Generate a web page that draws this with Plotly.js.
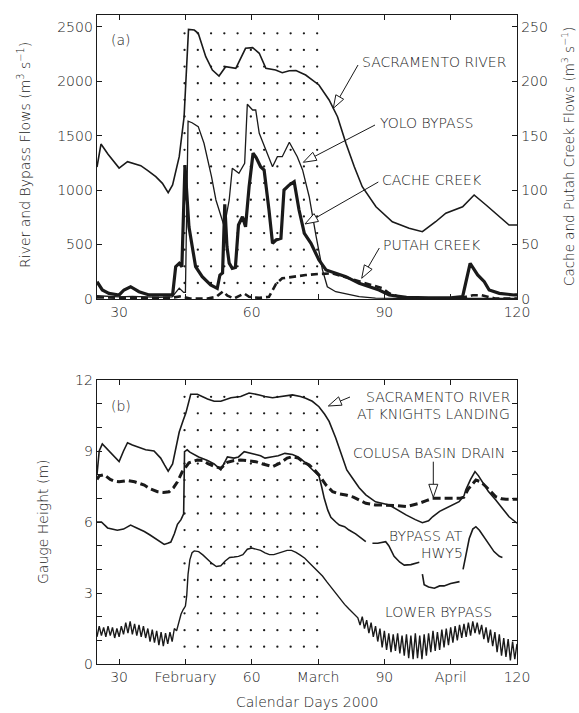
<!DOCTYPE html>
<html><head><meta charset="utf-8">
<script src="https://cdn.plot.ly/plotly-3.0.1.min.js"></script>
<style>html,body{margin:0;padding:0;background:#fff}#g{width:579px;height:713px}</style>
</head><body><div id="g"></div>
<script>
// ---- Panel (a): flows ----
const sacDays = [25,25.9,27.5,30,31.9,34.9,36.5,38.3,39.8,41.1,42.1,43.6,44.7,45.7,47,47.9,49.6,51.1,52.6,54.1,56.4,58.6,60.2,61.7,63.2,65.4,66.9,68.5,70,72.2,75.2,77.5,79.4,81.3,83.2,85,88.1,91.8,95.6,98.6,101.6,103.9,107.7,110.3,113,116,118.2,120];
const sacFlow = [1213,1424,1330,1203,1262,1225,1180,1124,1063,977,1048,1308,1675,2478,2472,2442,2227,2104,2049,2135,2120,2304,2310,2258,2120,2104,2080,2098,2100,2058,1967,1829,1675,1431,1216,1032,848,710,650,618,710,788,848,956,864,756,680,680];

const yoloDays = [25,27,30,33,36,39,42,43.6,44.6,45.0,45.6,46.5,47.9,49.2,50.9,51.9,53.8,54.9,55.6,57.1,58.4,59,60.2,60.9,61.7,63.2,64.7,65.8,66.9,68.5,70.3,71.5,73,74.5,76,77.1,79,84.3,88,95,105,112,120];
const yoloFlow = [30,25,20,25,20,15,20,100,60,60,1635,1620,1584,1431,1124,910,664,910,1201,1155,1247,1790,1737,1737,1523,1369,1216,1308,1308,1440,1308,1186,940,590,267,113,67,21,8,5,5,8,5];

const cacheDays = [25,26.2,27.7,30,31.1,32.6,34.5,36.8,39,42.1,42.8,43.6,44.2,44.9,45.8,47.3,48.8,50.7,52.2,52.8,53.4,53.9,54.4,54.9,55.6,56.3,57.0,57.9,58.6,59.4,60.3,61,62,62.8,63.9,64.7,65.5,66.6,67.3,68.5,69.6,70.7,71.9,73.4,75.2,76.8,79,81.3,84.3,88.8,91.1,95,100,105,107.7,109.4,111.1,112.6,113.7,116,119.4,120];
const cacheFlow = [15.9,8.3,5.2,3.7,8.3,11.3,6.7,3.7,3.7,3.7,29.7,32.8,29.7,123,66.4,29.7,20.5,12.9,9.8,22,24,87,48,33,28.2,29,68,75.6,66.4,103,134,130,121.6,118.6,81.8,51.2,54.2,55.8,100.2,104.8,107.8,81.8,60.4,51.2,35.8,26.7,23.6,20.5,14.4,8.3,3.7,1.5,1,1,2.1,32.8,22.1,15.9,8.3,5.2,3.7,3.7];

const putahDays = [25,30,35,40,42.5,44,46,50,52,53.5,54.5,56,57.5,58.3,59.4,61.7,63.9,65.5,66.9,69.2,72.2,75.2,78.3,82,85.8,89.6,91.1,94,100,107,108.5,110,112,113.5,115,120];
const putahFlow = [1.5,1,1,1,1.5,2.5,0.5,0.5,2,7,3,0.5,3,5,2,1,2,14,19,20.5,22,23,23.6,19,14.4,9.8,5.2,1,0.5,0.5,2,3.5,3.5,2,0.5,0.5];

// ---- Panel (b): gauge heights ----
const knlDays = [25,25.5,26.2,27.7,29,30,31,31.9,33,34.1,36,37.9,39.4,40.3,41.1,42.1,43,43.6,44.5,45.1,46.2,47.7,50,51.5,53,55.3,57.5,59.4,61.7,63,64.7,67,69.2,71,72.2,73.7,75.2,76.5,77.5,79,80.5,81.5,82.8,84.3,85.8,88,91.1,93,94.9,97,98.6,100,100.9,102.5,103.9,106.9,108,108.4,109.5,110.5,111.3,112.2,113.5,115.2,117,118.2,120];
const knlHeight = [8.0,9.0,9.3,9.0,8.75,8.55,9.0,9.35,9.25,9.18,9.05,9.0,8.7,8.4,8.15,8.45,9.3,9.8,10.3,10.6,11.4,11.4,11.2,11.1,11.1,11.25,11.3,11.45,11.37,11.3,11.25,11.3,11.37,11.3,11.23,11.1,10.87,10.55,10.25,9.55,8.7,8.2,7.85,7.45,7.15,6.85,6.72,6.5,6.3,6.1,5.97,6.05,6.22,6.45,6.58,6.86,7.1,7.35,7.8,8.13,7.95,7.7,7.3,6.93,6.5,6.22,5.95];

const colusaDays = [25,25.5,26.6,28,28.9,30,31.9,33.5,35.7,37,38.7,40,41.3,42.3,43.2,44.3,45.8,47.7,49,50,51.5,53,54.5,56,57.5,59,60.9,62.5,64.7,66.5,68,69.2,70.5,72,73,74.2,75.2,76.8,78.3,79.5,81.3,83,84.5,85.8,88,90.3,92.5,94.9,96.5,97.9,99.5,100.9,103,105.4,107,108,109,110.7,111.8,113,114.2,115.2,116.5,117.5,120];
const colusaHeight = [7.8,7.95,8.0,7.8,7.73,7.7,7.75,7.7,7.56,7.4,7.28,7.25,7.28,7.45,7.7,8.13,8.5,8.62,8.6,8.48,8.35,8.27,8.52,8.6,8.62,8.6,8.55,8.45,8.34,8.5,8.7,8.76,8.7,8.5,8.41,8.2,7.99,7.56,7.28,7.2,7.14,7.05,6.9,6.79,6.72,6.72,6.7,6.65,6.72,6.79,6.9,7.0,7.0,7.0,7.0,7.05,7.4,7.77,7.7,7.49,7.25,7.07,6.98,6.96,6.96];

const hwyDays = [25,26,27.4,29.6,31,32.6,34,35.7,37,38.7,40.2,41,41.7,42.5,43.2,44,44.6,44.8,45.4,46,47,48,50,51.5,53,54,54.5,56,57,58.3,59.5,60.9,62,63,64.7,66,67.5,69.2,70.5,72.2,73.5,75.2,75.8,76.4,77.2,77.9,79,79.8,81,82,83.5,85,85.8,86.5,87.3,88.5,90.3,91,92.2,93.5,94.5,96,97.9,98.3,98.6,99,100,101.3,102.5,103.5,105,107,107.4,107.8,108.3,109.2,110,110.7,111.5,112.6,113.7,114.8,116,116.7];
const hwyHeight = [6.0,6.0,5.75,5.65,5.7,5.87,5.75,5.6,5.45,5.25,5.05,5.1,5.15,5.5,5.9,6.1,6.35,8.97,9.05,8.95,8.85,8.75,8.6,8.45,8.2,8.6,8.75,8.7,8.75,8.97,8.9,8.85,8.8,8.7,8.76,8.8,8.9,8.85,8.75,8.5,8.25,7.95,7.5,7.0,6.5,6.2,6.0,5.87,5.8,5.66,5.5,5.3,5.17,null,5.1,5.1,5.17,5.0,4.55,4.3,4.18,4.2,4.3,null,3.8,3.35,3.25,3.2,3.3,3.3,3.4,3.48,null,4.0,4.5,5.3,5.7,5.8,5.65,5.35,5.0,4.75,4.55,4.5];

const lowerDays = [25,25.5,26,26.5,27,27.5,28,28.5,29,29.5,30,30.5,31,31.5,32,32.5,33,33.5,34,34.5,35,35.5,36,36.5,37,37.5,38,38.5,39,39.5,40,40.5,41,41.5,42,42.5,43,43.5,
 44,44.5,45,45.3,45.6,46,46.5,47,48,49,50,51,52,53,54,55,56,57,58,59,60,61,62,63,64,65,66,67,68,69,70,71,72,73,74,75,76,77,78,79,80,81,82,83,84,
 84.5,85,85.5,86,86.5,87,87.5,88,88.5,89,89.5,90,90.5,91,91.5,92,92.5,93,93.5,94,94.5,95,95.5,96,96.5,97,97.5,98,98.5,99,99.5,100,100.5,101,101.5,102,102.5,103,103.5,104,104.5,105,105.5,106,106.5,107,107.5,108,108.5,109,109.5,110,110.5,111,111.5,112,112.5,113,113.5,114,114.5,115,115.5,116,116.5,117,117.5,118,118.5,119,119.5,120];
const lowerHeight = [1.15,1.6,1.2,1.55,1.15,1.6,1.2,1.55,1.1,1.5,1.15,1.6,1.25,1.75,1.3,1.8,1.25,1.7,1.2,1.65,1.15,1.6,1.1,1.5,0.95,1.45,0.9,1.4,0.8,1.35,0.75,1.3,0.85,1.35,0.95,1.5,1.4,1.8,
 2.1,2.3,2.45,2.9,3.8,4.4,4.7,4.78,4.75,4.6,4.42,4.25,4.12,4.15,4.35,4.5,4.52,4.55,4.62,4.85,4.9,4.85,4.8,4.7,4.62,4.62,4.68,4.75,4.8,4.8,4.72,4.6,4.47,4.28,4.08,3.92,3.72,3.47,3.22,2.98,2.75,2.52,2.32,2.12,1.95,
 1.65,2.0,1.5,1.85,1.3,1.75,1.15,1.6,0.95,1.5,0.7,1.4,0.6,1.3,0.5,1.25,0.55,1.3,0.45,1.2,0.35,1.25,0.25,1.2,0.2,1.3,0.25,1.2,0.2,1.25,0.35,1.3,0.5,1.4,0.55,1.35,0.6,1.45,0.7,1.5,0.8,1.55,0.9,1.6,1.0,1.65,1.1,1.7,1.15,1.75,1.2,1.8,1.3,1.75,1.25,1.65,1.05,1.55,0.9,1.45,0.75,1.35,0.5,1.25,0.35,1.1,0.3,1.05,0.15,0.95,0.2,0.85];

// stipple (flood period) grid
const dotDays = [44.8,47.8,50.8,53.8,56.8,59.8,62.8,65.8,68.8,71.8,74.8];
const dotRowsTop = [2442,2289,2136,1983,1830,1677,1524,1371,1218,1065,912,759,606,453,300,147];
const dotRowsBottom = [11.29,10.59,9.88,9.18,8.47,7.77,7.07,6.36,5.66,4.95,4.25,3.55,2.84,2.14,1.43,0.73];

const xTicks = [30,45,60,75,90,105,120];
const xTextTop = ['30',' ','60',' ','90',' ','120'];
const xTextBottom = ['30','February','60','March','90','April','120'];
const yTicksTop = [0,500,1000,1500,2000,2500];
const yTicksRight = [0,50,100,150,200,250];
const yTicksBottom = [0,1,2,3,4,5,6,7,8,9,10,11,12];
const yTextBottom = ['0',' ',' ','3',' ',' ','6',' ',' ','9',' ',' ','12'];

function grid(xs, ys){const gx=[],gy=[];ys.forEach(y=>xs.forEach(x=>{gx.push(x);gy.push(y);}));return {gx,gy};}
const gt = grid(dotDays, dotRowsTop), gb = grid(dotDays, dotRowsBottom);

const FONT = 'DejaVu Sans';
const INK = '#1a1a1a';
const traces = [
 {x:gt.gx,y:gt.gy,xaxis:'x',yaxis:'y',mode:'markers',marker:{size:2.3,color:INK},hoverinfo:'skip'},
 {x:gb.gx,y:gb.gy,xaxis:'x2',yaxis:'y3',mode:'markers',marker:{size:2.3,color:INK},hoverinfo:'skip'},
 {x:sacDays,y:sacFlow,xaxis:'x',yaxis:'y',mode:'lines',line:{color:INK,width:1.6}},
 {x:yoloDays,y:yoloFlow,xaxis:'x',yaxis:'y',mode:'lines',line:{color:INK,width:1.3}},
 {x:cacheDays,y:cacheFlow,xaxis:'x',yaxis:'y2',mode:'lines',line:{color:INK,width:3.2}},
 {x:putahDays,y:putahFlow,xaxis:'x',yaxis:'y2',mode:'lines',line:{color:INK,width:2.6,dash:'7px,4px'}},
 {x:knlDays,y:knlHeight,xaxis:'x2',yaxis:'y3',mode:'lines',line:{color:INK,width:1.6}},
 {x:colusaDays,y:colusaHeight,xaxis:'x2',yaxis:'y3',mode:'lines',line:{color:INK,width:3,dash:'8px,4px'}},
 {x:hwyDays,y:hwyHeight,xaxis:'x2',yaxis:'y3',mode:'lines',connectgaps:false,line:{color:INK,width:1.6}},
 {x:lowerDays,y:lowerHeight,xaxis:'x2',yaxis:'y3',mode:'lines',line:{color:INK,width:1.4}}
];

// pixel -> paper helpers for annotation decoration
const L=97,R=517,T=15,B=664,W=R-L,H=B-T;
const PX=x=>(x-L)/W, PY=y=>(B-y)/H;
const tf = {family:FONT,size:14,color:INK,weight:300};

const ann = [];
function txt(text,x,y,xa,extra){ann.push(Object.assign({text,x:PX(x),y:PY(y),xref:'paper',yref:'paper',xanchor:xa||'left',yanchor:'middle',showarrow:false,font:tf,borderpad:0},extra||{}));}
txt('(a)',121,40,'center');
txt('SACRAMENTO RIVER',361,62);
txt('YOLO BYPASS',379,123);
txt('CACHE CREEK',381,180);
txt('PUTAH CREEK',382,245);
txt('(b)',121,406,'center');
txt('SACRAMENTO RIVER',511,397,'right');
txt('AT KNIGHTS LANDING',511,414,'right');
txt('COLUSA BASIN DRAIN',352,453);
txt('BYPASS AT',464,536,'right');
txt('HWY5',464,553,'right');
txt('LOWER BYPASS',384,612);
// axis titles
txt('River and Bypass Flows (m<sup>3</sup> s<sup>−1</sup>)',24,155,'center',{textangle:-90});
txt('Cache and Putah Creek Flows (m<sup>3</sup> s<sup>−1</sup>)',568,157,'center',{textangle:-90,font:Object.assign({},tf,{size:13.5})});
txt('Gauge Height (m)',43,522,'center',{textangle:-90});
txt('Calendar Days 2000',307,702,'center');

// hollow arrowheads as shapes
const shapes = [];
function arrow(tx,ty,hx,hy){
  const dx=hx-tx, dy=hy-ty, len=Math.hypot(dx,dy), ux=dx/len, uy=dy/len;
  const hl=13, hw=4.5, bx=hx-ux*hl, by=hy-uy*hl, nx=-uy, ny=ux;
  shapes.push({type:'line',xref:'paper',yref:'paper',x0:PX(tx),y0:PY(ty),x1:PX(bx),y1:PY(by),line:{color:INK,width:1}});
  const p=[[hx,hy],[bx+nx*hw,by+ny*hw],[bx-nx*hw,by-ny*hw]].map(q=>PX(q[0]).toFixed(5)+','+PY(q[1]).toFixed(5));
  shapes.push({type:'path',xref:'paper',yref:'paper',path:'M'+p[0]+'L'+p[1]+'L'+p[2]+'Z',fillcolor:'#fff',line:{color:INK,width:1}});
}
arrow(358,65,333.3,108.3);
arrow(375,125,303.3,162.3);
arrow(378.3,182,305,224);
arrow(379.3,248,361.7,278.3);
arrow(350,397,328.3,406);
arrow(433.3,461.7,433.3,497.3);

const axCommon = {showline:true,linecolor:INK,linewidth:1.4,ticks:'inside',ticklen:5,tickcolor:INK,tickwidth:1,showgrid:false,zeroline:false,tickfont:tf,fixedrange:true};
const layout = {
  width:579,height:713,margin:{l:L,r:579-R,t:T,b:713-B},
  paper_bgcolor:'#fff',plot_bgcolor:'#fff',showlegend:false,
  xaxis:Object.assign({},axCommon,{domain:[0,1],anchor:'y',range:[25,120],tickmode:'array',tickvals:xTicks,ticktext:xTextTop,mirror:'ticks'}),
  yaxis:Object.assign({},axCommon,{domain:[(B-299)/H,1],anchor:'x',range:[0,2610],tickmode:'array',tickvals:yTicksTop}),
  yaxis2:Object.assign({},axCommon,{overlaying:'y',side:'right',anchor:'x',range:[0,261],tickmode:'array',tickvals:yTicksRight}),
  xaxis2:Object.assign({},axCommon,{domain:[0,1],anchor:'y3',range:[25,120],tickmode:'array',tickvals:xTicks,ticktext:xTextBottom,mirror:'ticks'}),
  yaxis3:Object.assign({},axCommon,{domain:[0,(B-380)/H],anchor:'x2',range:[0,12],tickmode:'array',tickvals:yTicksBottom,ticktext:yTextBottom,mirror:'ticks'}),
  annotations:ann,shapes:shapes
};
Plotly.newPlot('g',traces,layout,{staticPlot:true,displayModeBar:false});
</script></body></html>
